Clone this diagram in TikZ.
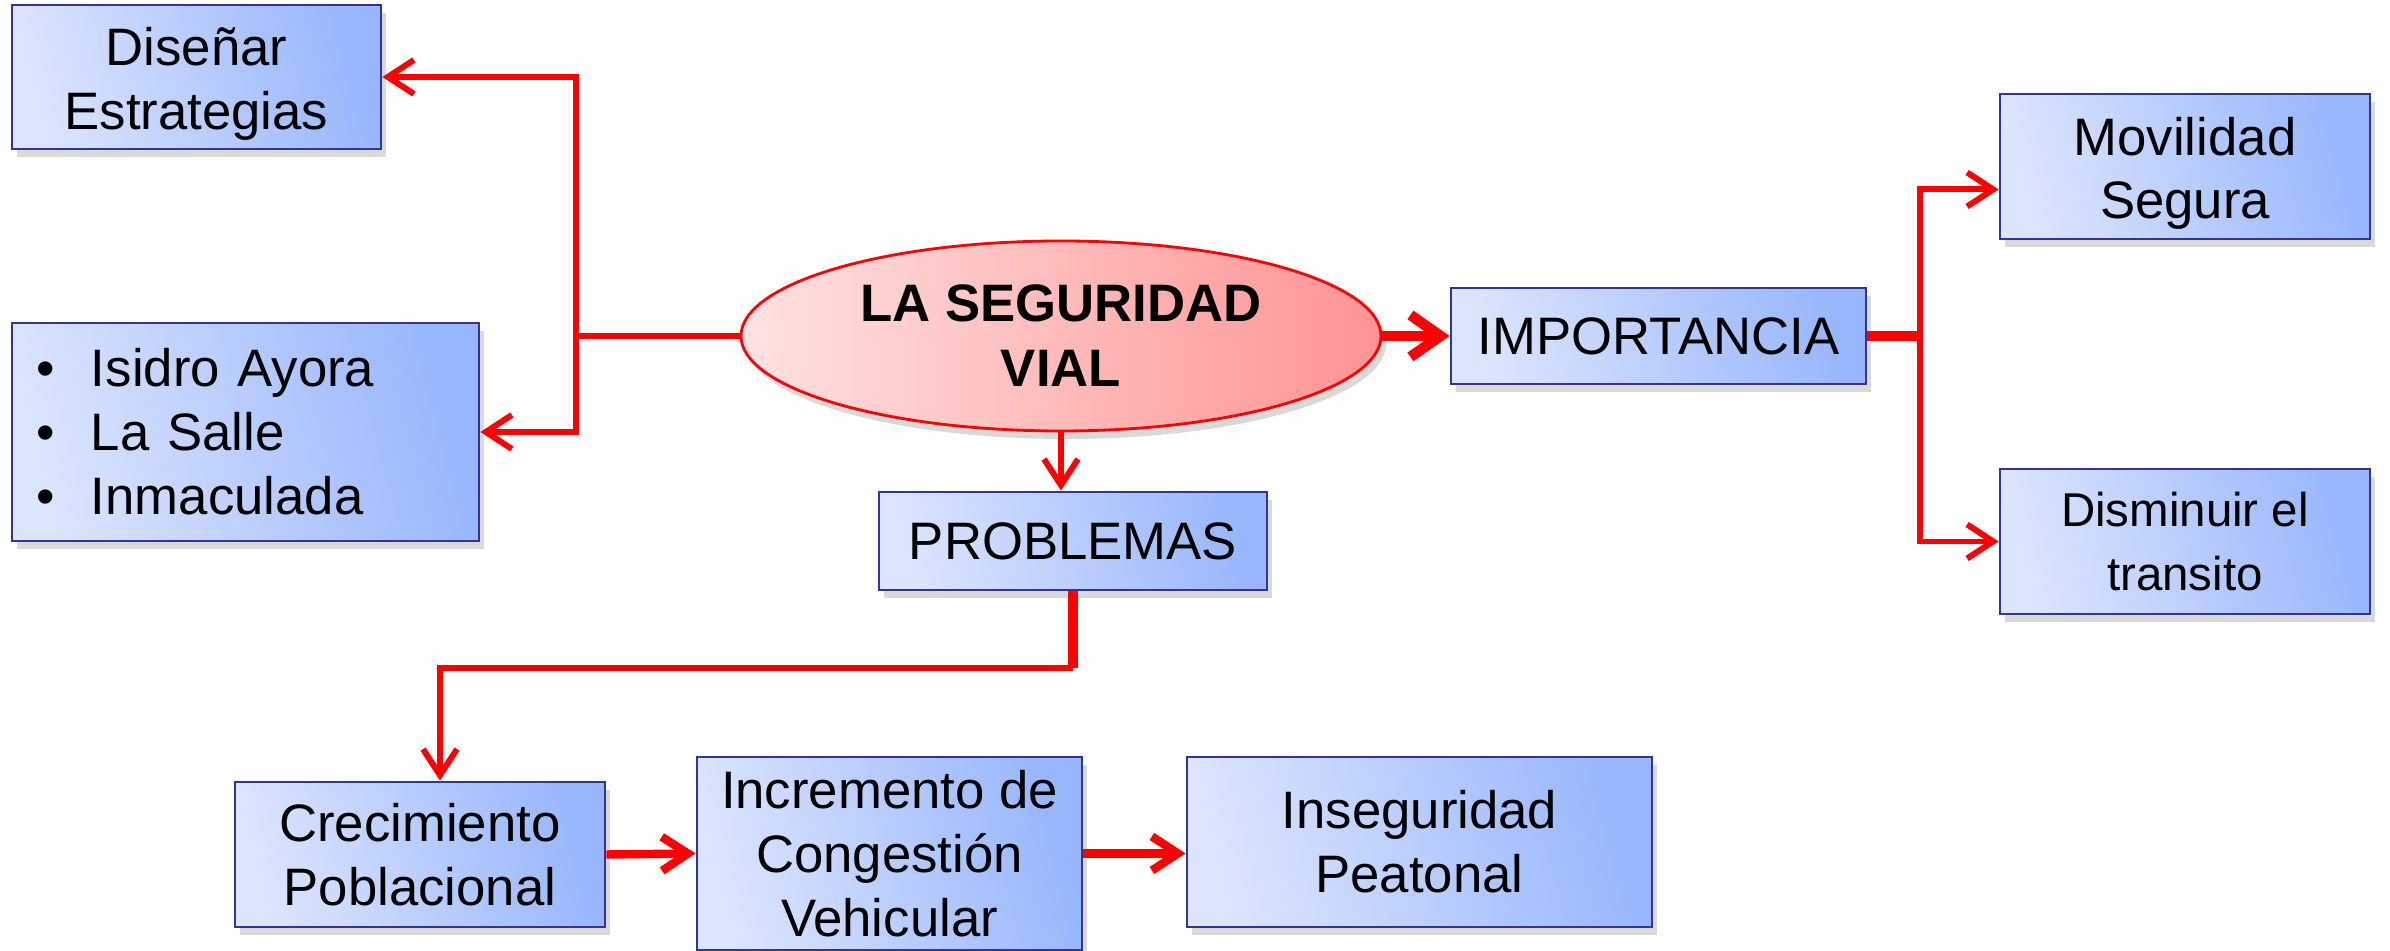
\documentclass[tikz,border=0pt]{standalone}
\usepackage{fontspec}
\setmainfont{Liberation Sans}
\usepackage{tikz}
\usetikzlibrary{shapes.geometric,shadows,arrows.meta}
\definecolor{boxL}{HTML}{DCE5FE}
\definecolor{boxR}{HTML}{97B6FC}
\definecolor{boxB}{HTML}{333399}
\definecolor{ovL}{HTML}{FFE2E2}
\definecolor{ovR}{HTML}{FF9393}
\newcommand{\lowstrut}{\rule{0pt}{5.2mm}}

\begin{document}
\begin{tikzpicture}[
  box/.style={rectangle, draw=boxB, line width=0.8pt, left color=boxL, right color=boxR, shading angle=105, inner sep=0pt, align=center, font=\fontsize{15}{18.2}\selectfont, drop shadow={opacity=0.3, shadow xshift=0.05cm, shadow yshift=-0.08cm}},
  oval/.style={ellipse, draw=red, line width=0.8pt, left color=ovL, right color=ovR, inner sep=0pt, align=center, font=\fontsize{15}{18.5}\selectfont\bfseries, drop shadow={opacity=0.3, shadow xshift=0.05cm, shadow yshift=-0.08cm}},
  link/.style={red, line width=1.7pt},
  mid/.style={red, line width=2.4pt},
  fat/.style={red, line width=3pt},
  tip/.style={-{Straight Barb[length=2.6mm, width=3.4mm]}},
  bigtip/.style={-{Straight Barb[length=3mm, width=4.2mm]}}
]
\useasboundingbox (0,0) rectangle (23.9,-9.51);

\node [oval, minimum width=6.4cm, minimum height=1.9cm] (V) at (10.61,-3.36) {LA SEGURIDAD\\VIAL};
\node [box, minimum width=3.69cm, minimum height=1.44cm] (D) at (1.965,-0.77) {\lowstrut Diseñar\\Estrategias};
\node [box, minimum width=4.67cm, minimum height=2.18cm, text width=4.19cm, align=left] (L) at (2.455,-4.32) {\makebox[0.55cm][l]{\textbullet}Isidro Ayora\\\makebox[0.55cm][l]{\textbullet}La Salle\\\makebox[0.55cm][l]{\textbullet}Inmaculada};
\node [box, minimum width=4.15cm, minimum height=0.96cm] (I) at (16.585,-3.36) {IMPORTANCIA};
\node [box, minimum width=3.7cm, minimum height=1.45cm] (M) at (21.85,-1.665) {\lowstrut Movilidad\\Segura};
\node [box, minimum width=3.7cm, minimum height=1.45cm, font=\fontsize{13.5}{18.2}\selectfont] (T) at (21.85,-5.415) {Disminuir el\\transito};
\node [box, minimum width=3.88cm, minimum height=0.98cm] (P) at (10.73,-5.41) {PROBLEMAS};
\node [box, minimum width=3.7cm, minimum height=1.45cm] (C) at (4.2,-8.545) {Crecimiento\\Poblacional};
\node [box, minimum width=3.85cm, minimum height=1.93cm] (G) at (8.895,-8.535) {Incremento de\\Congestión\\Vehicular};
\node [box, minimum width=4.65cm, minimum height=1.7cm] (S) at (14.195,-8.42) {Inseguridad\\Peatonal};

\coordinate (X1) at (5.76,-3.36);
\coordinate (X2) at (19.20,-3.36);
\coordinate (X3) at (10.75,-6.68);

\draw [link] (V.west) -- (X1);
\draw [link, tip] (X1) |- (D.east);
\draw [link, tip] (X1) |- (L.east);
\draw [fat, bigtip] (V.east) -- (I.west);
\draw [fat] (I.east) -- (X2);
\draw [link, tip] (X2) |- ([yshift=-2.3mm]M.west);
\draw [link, tip] (X2) |- (T.west);
\draw [link, tip] (V.south) -- (V.south |- P.north);
\draw [fat] (P.south) -- (P.south |- X3);
\draw [link, tip] (P.south |- X3) -| ([xshift=2mm]C.north);
\draw [mid, tip] (C.east) -- (G.west);
\draw [mid, tip] (G.east) -- (G.east -| S.west);

\end{tikzpicture}
\end{document}
